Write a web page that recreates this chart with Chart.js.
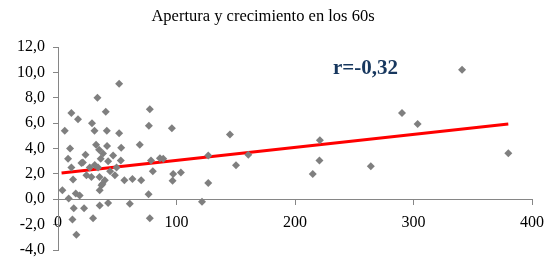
<!DOCTYPE html>
<html>
<head>
<meta charset="utf-8">
<script src="https://cdn.jsdelivr.net/npm/chart.js@4/dist/chart.umd.min.js"></script>
<style>
  html, body { margin: 0; padding: 0; background: #fff; }
  #wrap { width: 547px; height: 257px; }
</style>
</head>
<body>
<div id="wrap"><canvas id="scatterChart"></canvas></div>
<script>
// Apertura (x) y crecimiento (y), one entry per country
const apertura = [
  5.7, 11.3, 16.9, 28.7, 30.8, 33.3, 40.3, 41.2, 51.6, 51.6,
  77.5, 76.7, 96.1, 10.2, 32.1, 41.4, 53.3, 69.0, 8.5, 23.2,
  19.8, 11.3, 12.7, 3.7, 9.0, 15.0, 18.3, 13.3, 22.0, 12.2,
  29.6, 15.5, 35.2, 42.3, 60.6, 77.5, 76.4, 34.7, 38.0, 46.5,
  53.0, 26.8, 33.8, 24.0, 28.2, 35.0, 37.5, 35.2, 39.5, 48.0,
  56.0, 62.8, 70.2, 78.5, 80.0, 86.0, 88.8, 97.2, 96.7, 103.7,
  121.5, 145.1, 126.8, 160.6, 150.2, 126.8, 215.0, 220.6, 221.0, 341.0,
  290.3, 303.5, 264.0, 380.0, 21.0, 42.3, 49.4, 36.7, 31.0, 36.0,
  44.0
];
const crecimiento = [
  5.4, 6.8, 6.3, 6.0, 5.4, 8.0, 6.9, 5.4, 9.1, 5.2,
  7.1, 5.8, 5.6, 4.0, 4.3, 4.2, 4.05, 4.3, 3.2, 3.5,
  2.85, 2.5, 1.55, 0.7, 0.05, 0.45, 0.3, -0.7, -0.7, -1.6,
  -1.5, -2.8, -0.5, -0.3, -0.35, -1.5, 0.4, 3.9, 3.6, 3.45,
  3.06, 2.5, 2.5, 1.9, 1.75, 1.75, 1.2, 0.7, 1.5, 1.9,
  1.5, 1.6, 1.5, 3.06, 2.2, 3.24, 3.2, 2.0, 1.45, 2.1,
  -0.2, 5.1, 3.45, 3.5, 2.67, 1.28, 2.0, 3.06, 4.65, 10.2,
  6.8, 5.94, 2.6, 3.63, 2.9, 3.0, 2.5, 1.1, 2.7, 3.2,
  2.2
];

// linear trend, its two end points
const trendX = [3, 380];
const trendY = [2.06, 5.94];

const xTicks = [0, 100, 200, 300, 400];
const yTicks = [-4, -2, 0, 2, 4, 6, 8, 10, 12];

const chartTitle = "Apertura y crecimiento en los 60s";
const corrLabel = "r=-0,32";
const corrPos = [232, 10.3];

const points = apertura.map((x, i) => ({ x: x, y: crecimiento[i] }));
const trend = trendX.map((x, i) => ({ x: x, y: trendY[i] }));

// title and the r label, drawn on top of the chart
const textPlugin = {
  id: "texts",
  afterDraw(chart) {
    const ctx = chart.ctx;
    ctx.save();
    ctx.fillStyle = "#000";
    ctx.font = "16.5px 'Liberation Serif'";
    ctx.textAlign = "center";
    ctx.textBaseline = "alphabetic";
    ctx.fillText(chartTitle, 263, 21);

    const sx = chart.scales.x, sy = chart.scales.y;
    ctx.fillStyle = "#17375E";
    ctx.font = "bold 21px 'Liberation Serif'";
    ctx.textAlign = "left";
    ctx.textBaseline = "middle";
    ctx.fillText(corrLabel, sx.getPixelForValue(corrPos[0]), sy.getPixelForValue(corrPos[1]));
    ctx.restore();
  }
};

const tickFont = { family: "'Liberation Serif'", size: 16 };
const axisGrey = "#868686";

// labels may hang past the plot edges, as in the original
function noPadding(s) {
  s.paddingLeft = 0;
  s.paddingRight = 0;
  s.paddingTop = 0;
  s.paddingBottom = 0;
}

new Chart(document.getElementById("scatterChart"), {
  type: "scatter",
  data: {
    datasets: [
      {
        data: points,
        pointStyle: "rectRot",
        pointRadius: 4,
        pointHoverRadius: 4,
        backgroundColor: "#7F7F7F",
        borderColor: "#7F7F7F",
        borderWidth: 0
      },
      {
        type: "line",
        data: trend,
        borderColor: "#FF0000",
        borderWidth: 3,
        pointRadius: 0,
        fill: false
      }
    ]
  },
  options: {
    responsive: true,
    maintainAspectRatio: false,
    animation: false,
    events: [],
    layout: { padding: { top: 47, left: 9, right: 15, bottom: 7 } },
    plugins: { legend: { display: false }, title: { display: false }, tooltip: { enabled: false } },
    scales: {
      x: {
        type: "linear",
        position: { y: 0 },
        min: 0,
        max: 400,
        afterBuildTicks: (s) => { s.ticks = xTicks.map(v => ({ value: v })); },
        afterFit: noPadding,
        ticks: { font: tickFont, color: "#000", padding: 9, maxRotation: 0 },
        grid: { drawOnChartArea: false, tickLength: 5, color: axisGrey },
        border: { color: axisGrey, width: 1 }
      },
      y: {
        type: "linear",
        min: -4,
        max: 12,
        afterBuildTicks: (s) => { s.ticks = yTicks.map(v => ({ value: v })); },
        afterFit: noPadding,
        ticks: {
          font: tickFont,
          color: "#000",
          padding: 8,
          callback: (v) => v.toFixed(1).replace(".", ",")
        },
        grid: { drawOnChartArea: false, tickLength: 5, color: axisGrey },
        border: { color: axisGrey, width: 1 }
      }
    }
  },
  plugins: [textPlugin]
});
</script>
</body>
</html>
